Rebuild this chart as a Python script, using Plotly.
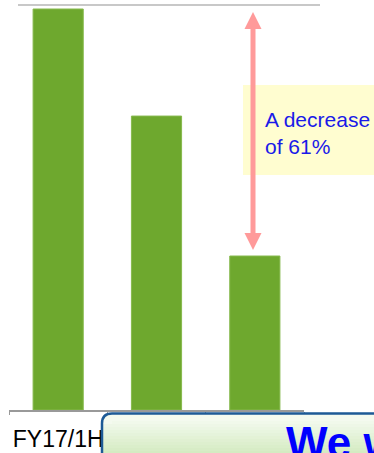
import plotly.graph_objects as go

# ---- data ----
categories = ["FY17/1H", "FY18/1H", "FY19/1H"]
values = [100.0, 73.3, 38.4]
callout_text = "A decrease<br>of 61%"
banner_text = "We were"

W, H = 374, 453
L, R, T, B = 9, 70, 0, 43
PW, PH = W - L - R, H - T - B
YMAX = values[0] * PH / 401.0
UPP = YMAX / PH  # data units per pixel


def px(x):
    return (x - L) / PW


def py(y):
    return (T + PH - y) / PH


fig = go.Figure(go.Bar(
    x=categories, y=values, width=0.51,
    marker=dict(color="#6ea82e", line=dict(color="#86b94c", width=1)),
))

shapes = []
# top grey rule
shapes.append(dict(type="line", xref="paper", yref="paper", x0=px(18), x1=px(320),
                   y0=py(5), y1=py(5), line=dict(color="#c8c8c8", width=2), layer="above"))
# yellow callout box
shapes.append(dict(type="rect", xref="paper", yref="paper", x0=px(243), x1=px(390),
                   y0=py(175), y1=py(85), fillcolor="#fffdd0", line=dict(width=0), layer="above"))
# double arrow between first and third bar
ax = px(253)
top_tip = values[0] - 3 * UPP
bot_tip = values[2] + 6 * UPP
head = 17 * UPP
hw = 8.5 / PW
shapes.append(dict(type="line", xref="paper", yref="y", x0=ax, x1=ax,
                   y0=top_tip - head + 1 * UPP, y1=bot_tip + head - 1 * UPP,
                   line=dict(color="#ff9a9a", width=5), layer="above"))
shapes.append(dict(type="path", xref="paper", yref="y", layer="above",
                   path=f"M{ax},{top_tip} L{ax-hw},{top_tip-head} L{ax+hw},{top_tip-head} Z",
                   fillcolor="#ff9a9a", line=dict(width=0)))
shapes.append(dict(type="path", xref="paper", yref="y", layer="above",
                   path=f"M{ax},{bot_tip} L{ax-hw},{bot_tip+head} L{ax+hw},{bot_tip+head} Z",
                   fillcolor="#ff9a9a", line=dict(width=0)))

# bottom banner box with a soft vertical gradient
bx0, by0, rr = 102, 413.5, 10
xr, yb = 400, 470
outline = (f"M{px(bx0)},{py(yb)} L{px(bx0)},{py(by0+rr)} "
           f"Q{px(bx0)},{py(by0)} {px(bx0+rr)},{py(by0)} "
           f"L{px(xr)},{py(by0)} L{px(xr)},{py(yb)} Z")
shapes.append(dict(type="path", xref="paper", yref="paper", path=outline,
                   fillcolor="#f4faef", line=dict(width=0), layer="above"))
c0, c1 = (244, 250, 239), (212, 235, 194)
n = 12
for i in range(n):
    y0 = 418 + i * 3
    t = i / (n - 1)
    c = tuple(round(a + (b - a) * t) for a, b in zip(c0, c1))
    xs = bx0 + 1 if y0 >= by0 + rr else bx0 + rr
    shapes.append(dict(type="rect", xref="paper", yref="paper", layer="above",
                       x0=px(xs), x1=px(xr), y0=py(y0 + 3.5 if i < n - 1 else yb), y1=py(y0),
                       fillcolor=f"rgb{c}", line=dict(width=0)))
shapes.append(dict(type="path", xref="paper", yref="paper", path=outline,
                   fillcolor="rgba(0,0,0,0)", line=dict(color="#1d5a96", width=2.5), layer="above"))

annotations = [
    dict(xref="paper", yref="paper", x=px(263), y=py(106), xanchor="left", yanchor="top",
         text=callout_text, showarrow=False, align="left",
         font=dict(family="Arial, Liberation Sans", size=21, color="#1a1ae8")),
    dict(xref="paper", yref="paper", x=px(284), y=py(416), xanchor="left", yanchor="top",
         text=f"<b>{banner_text}</b>", showarrow=False,
         font=dict(family="Arial, Liberation Sans", size=44, color="#0000ff")),
]

fig.update_layout(
    width=W, height=H, margin=dict(l=L, r=R, t=T, b=B, pad=0, autoexpand=False),
    paper_bgcolor="white", plot_bgcolor="white", showlegend=False,
    shapes=shapes, annotations=annotations,
    xaxis=dict(showline=True, linecolor="#999999", linewidth=1.5, ticks="outside",
               tickson="boundaries", ticklen=3, tickcolor="#999999", showgrid=False,
               tickangle=0, automargin=False, ticklabelstandoff=8,
               tickfont=dict(family="Arial, Liberation Sans", size=23, color="black")),
    yaxis=dict(range=[0, YMAX], visible=False, showgrid=False, automargin=False),
)

fig.write_html("out.html")
